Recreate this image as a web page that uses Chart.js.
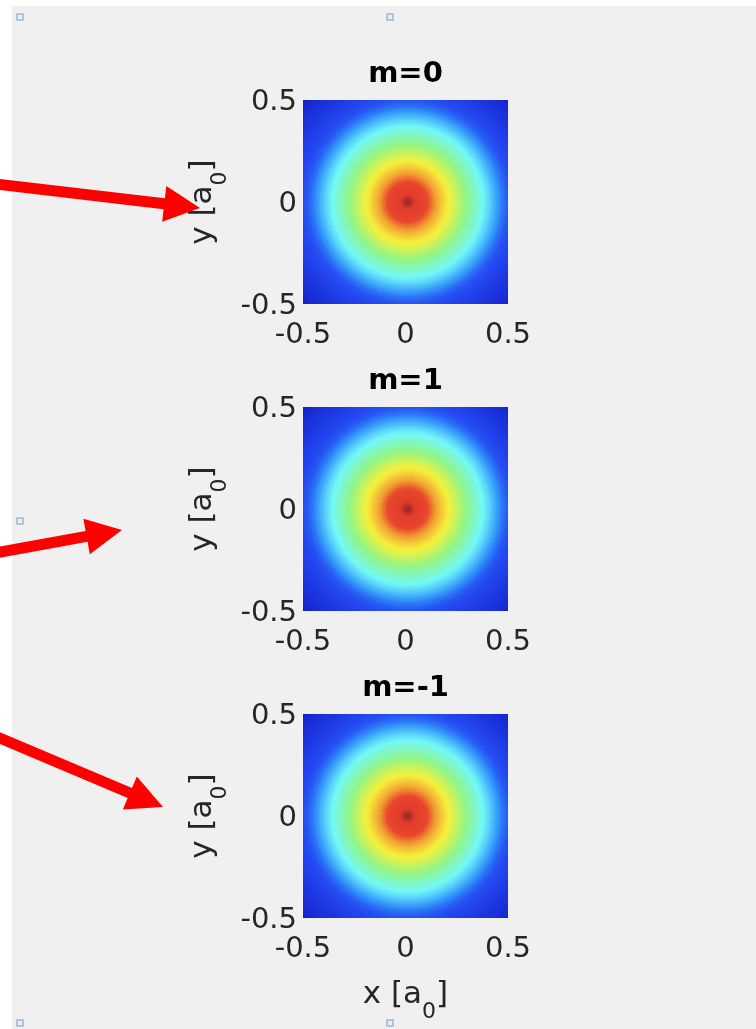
<!DOCTYPE html>
<html><head><meta charset="utf-8">
<script src="https://cdn.jsdelivr.net/npm/chart.js@4.4.1/dist/chart.umd.min.js"></script>
<style>
html,body{margin:0;padding:0;background:#fff;overflow:hidden;width:756px;height:1029px;position:relative;}
#panel{position:absolute;left:12px;top:6px;width:744px;height:1023px;background:#f0f0f0;}
canvas{position:absolute;left:0;}
</style></head><body>
<div id="panel"></div>
<canvas id="c0" width="756" height="347" style="top:0px;width:756px;height:347px"></canvas>
<canvas id="c1" width="756" height="307" style="top:347px;width:756px;height:307px"></canvas>
<canvas id="c2" width="756" height="375" style="top:654px;width:756px;height:375px"></canvas>
<script>
// ---- data ----
const TITLES = ['m=0', 'm=1', 'm=-1'];
const AXIS_TICKS = [-0.5, 0, 0.5];
const CENTER = [0.01, 0];
// outer radius of each ring (in a0)
const RING_RADII = [0.02,0.03,0.04,0.05,0.06,0.07,0.08,0.09,0.10,0.11,0.12,0.13,0.14,0.15,0.16,0.17,0.18,0.19,0.20,
  0.21,0.22,0.23,0.24,0.25,0.26,0.27,0.28,0.29,0.30,0.31,0.32,0.33,0.34,0.35,0.36,0.37,0.38,0.39,0.40,
  0.41,0.42,0.43,0.44,0.45,0.46,0.47,0.48,0.49,0.50,0.51,0.52,0.53,0.54,0.55,0.56,0.57,0.58,0.59,0.60,
  0.62,0.64,0.66,0.68,0.70,0.72];
// normalised density in each ring (colour-map level)
const VALUES_M0 = [0.97,0.93,0.91,0.90,0.895,0.89,0.88,0.87,0.855,0.835,0.805,0.78,0.755,0.73,0.71,0.69,0.67,0.65,0.635,
  0.62,0.605,0.59,0.575,0.56,0.545,0.53,0.515,0.50,0.485,0.47,0.455,0.44,0.425,0.41,0.395,0.38,0.365,0.35,0.335,
  0.32,0.30,0.285,0.265,0.25,0.23,0.21,0.195,0.18,0.17,0.163,0.157,0.152,0.148,0.145,0.142,0.139,0.136,0.133,0.13,
  0.125,0.12,0.115,0.11,0.10,0.09];
const VALUES_M1 = [0.97,0.93,0.91,0.90,0.895,0.89,0.88,0.87,0.855,0.835,0.805,0.78,0.755,0.73,0.71,0.69,0.67,0.65,0.635,
  0.62,0.605,0.59,0.575,0.56,0.545,0.53,0.515,0.50,0.485,0.47,0.455,0.44,0.425,0.41,0.395,0.38,0.365,0.35,0.335,
  0.32,0.30,0.285,0.265,0.25,0.23,0.21,0.195,0.18,0.17,0.163,0.157,0.152,0.148,0.145,0.142,0.139,0.136,0.133,0.13,
  0.125,0.12,0.115,0.11,0.10,0.09];
const VALUES_MM1 = [0.97,0.93,0.91,0.90,0.895,0.89,0.88,0.87,0.855,0.835,0.805,0.78,0.755,0.73,0.71,0.69,0.67,0.65,0.635,
  0.62,0.605,0.59,0.575,0.56,0.545,0.53,0.515,0.50,0.485,0.47,0.455,0.44,0.425,0.41,0.395,0.38,0.365,0.35,0.335,
  0.32,0.30,0.285,0.265,0.25,0.23,0.21,0.195,0.18,0.17,0.163,0.157,0.152,0.148,0.145,0.142,0.139,0.136,0.133,0.13,
  0.125,0.12,0.115,0.11,0.10,0.09];

// ---- styles ----
const FONT = '"DejaVu Sans", Verdana, sans-serif';
const TEXT = '#262626';
const CMAP = [
  [0.00,[10,10,120]],[0.09,[20,30,200]],[0.15,[35,70,240]],[0.25,[50,150,250]],
  [0.375,[115,248,248]],[0.50,[145,245,135]],[0.625,[245,240,60]],[0.75,[242,155,50]],
  [0.85,[232,72,45]],[0.90,[228,62,45]],[1.00,[150,35,35]]
];
function cmap(v){
  v = Math.max(0, Math.min(1, v));
  for (let i = 1; i < CMAP.length; i++) {
    if (v <= CMAP[i][0]) {
      const [a, ca] = CMAP[i-1], [b, cb] = CMAP[i];
      const t = (v - a) / (b - a);
      const c = ca.map((q, k) => Math.round(q + (cb[k] - q) * t));
      return `rgb(${c[0]},${c[1]},${c[2]})`;
    }
  }
  return 'rgb(150,35,35)';
}
function rings(values){
  const pts = RING_RADII.map((r, i) => ({x: CENTER[0], y: CENTER[1], rad: r, v: values[i]}));
  return pts.reverse(); // largest first
}
function radiusFn(ctx){
  const s = ctx.chart.scales.x;
  if (!s || !ctx.raw) return 0;
  return Math.abs(s.getPixelForValue(ctx.raw.rad) - s.getPixelForValue(0));
}
function drawSubLabel(ctx, cx, cy, main, sub, close, rotate){
  const big = 'normal 31px ' + FONT, small = 'normal 22px ' + FONT;
  ctx.save();
  ctx.translate(cx, cy);
  if (rotate) ctx.rotate(-Math.PI / 2);
  ctx.fillStyle = TEXT;
  ctx.textBaseline = 'alphabetic';
  ctx.textAlign = 'left';
  ctx.font = big; const w1 = ctx.measureText(main).width, w3 = ctx.measureText(close).width;
  ctx.font = small; const w2 = ctx.measureText(sub).width;
  let x = -(w1 + w2 + w3) / 2;
  ctx.font = big; ctx.fillText(main, x, 0); x += w1;
  ctx.font = small; ctx.fillText(sub, x, 15); x += w2;
  ctx.font = big; ctx.fillText(close, x, 0);
  ctx.restore();
}
function drawArrow(ctx, tail, tip, shaft, headLen, headW){
  const dx = tip[0]-tail[0], dy = tip[1]-tail[1], L = Math.hypot(dx, dy);
  const ux = dx/L, uy = dy/L, nx = -uy, ny = ux;
  const bx = tip[0]-ux*headLen, by = tip[1]-uy*headLen;
  ctx.beginPath();
  ctx.moveTo(tail[0]+nx*shaft/2, tail[1]+ny*shaft/2);
  ctx.lineTo(bx+nx*shaft/2, by+ny*shaft/2);
  ctx.lineTo(bx+nx*headW/2, by+ny*headW/2);
  ctx.lineTo(tip[0], tip[1]);
  ctx.lineTo(bx-nx*headW/2, by-ny*headW/2);
  ctx.lineTo(bx-nx*shaft/2, by-ny*shaft/2);
  ctx.lineTo(tail[0]-nx*shaft/2, tail[1]-ny*shaft/2);
  ctx.closePath();
  ctx.fillStyle = '#ff0000';
  ctx.fill();
}
const deco = {
  id: 'deco',
  afterDraw(chart, args, o){
    const ctx = chart.ctx, a = chart.chartArea, off = o.offset || 0;
    ctx.save();
    ctx.strokeStyle = '#9fb6cf'; ctx.lineWidth = 1.5; ctx.fillStyle = '#e6eef6';
    (o.handles || []).forEach(([x, y]) => { ctx.fillRect(x-3, y-3-off, 6, 6); ctx.strokeRect(x-3, y-3-off, 6, 6); });
    drawSubLabel(ctx, a.left - 92, (a.top + a.bottom) / 2, 'y [a', '0', ']', true);
    if (o.xLabel) drawSubLabel(ctx, (a.left + a.right) / 2, a.bottom + 85, 'x [a', '0', ']', false);
    if (o.arrow) drawArrow(ctx, [o.arrow[0][0], o.arrow[0][1]-off], [o.arrow[1][0], o.arrow[1][1]-off], 11, 36, 36);
    ctx.restore();
  }
};
function makePanel(id, title, values, padTop, padBottom, decoOpts){
  const tickFont = {family: FONT, size: 29};
  new Chart(document.getElementById(id), {
    type: 'scatter',
    data: {datasets: [{
      data: rings(values),
      pointStyle: 'circle',
      pointRadius: radiusFn, pointHoverRadius: radiusFn,
      pointBorderWidth: 0, pointHoverBorderWidth: 0,
      pointBorderColor: 'rgba(0,0,0,0)',
      pointBackgroundColor: c => c.raw ? cmap(c.raw.v) : '#000',
      pointHoverBackgroundColor: c => c.raw ? cmap(c.raw.v) : '#000',
      clip: 0
    }]},
    options: {
      responsive: false, animation: false, events: [],
      layout: {padding: {left: 0, right: 248, top: padTop, bottom: padBottom}},
      plugins: {
        legend: {display: false}, tooltip: {enabled: false},
        title: {display: true, text: title, fullSize: false, color: '#000',
          font: {family: FONT, size: 29, weight: 'bold', lineHeight: 1}, padding: {top: 0, bottom: 11}},
        deco: decoOpts
      },
      scales: {
        x: {type: 'linear', min: -0.5, max: 0.5,
          grid: {display: false, drawTicks: false}, border: {display: false},
          afterBuildTicks: s => { s.ticks = AXIS_TICKS.map(v => ({value: v})); },
          afterFit: s => { s.height = 43; },
          ticks: {padding: 14, color: TEXT, font: tickFont, maxRotation: 0, autoSkip: false, callback: v => String(v)}},
        y: {type: 'linear', min: -0.5, max: 0.5,
          grid: {display: false, drawTicks: false}, border: {display: false},
          afterBuildTicks: s => { s.ticks = AXIS_TICKS.map(v => ({value: v})); },
          afterFit: s => { s.width = 303; },
          ticks: {padding: 6, labelOffset: 2, color: TEXT, font: tickFont, autoSkip: false, callback: v => String(v)}}
      }
    },
    plugins: [deco]
  });
}
makePanel('c0', TITLES[0], VALUES_M0, 60, 0, {offset: 0, handles: [[20,17],[390,17]], arrow: [[-5,184],[200,208]]});
makePanel('c1', TITLES[1], VALUES_M1, 20, 0, {offset: 347, handles: [[20,521]], arrow: [[-5,553],[122,530]]});
makePanel('c2', TITLES[2], VALUES_MM1, 20, 68, {offset: 654, handles: [[20,1023],[390,1023]], arrow: [[-5,736],[163,807]], xLabel: true});
</script>
</body></html>
